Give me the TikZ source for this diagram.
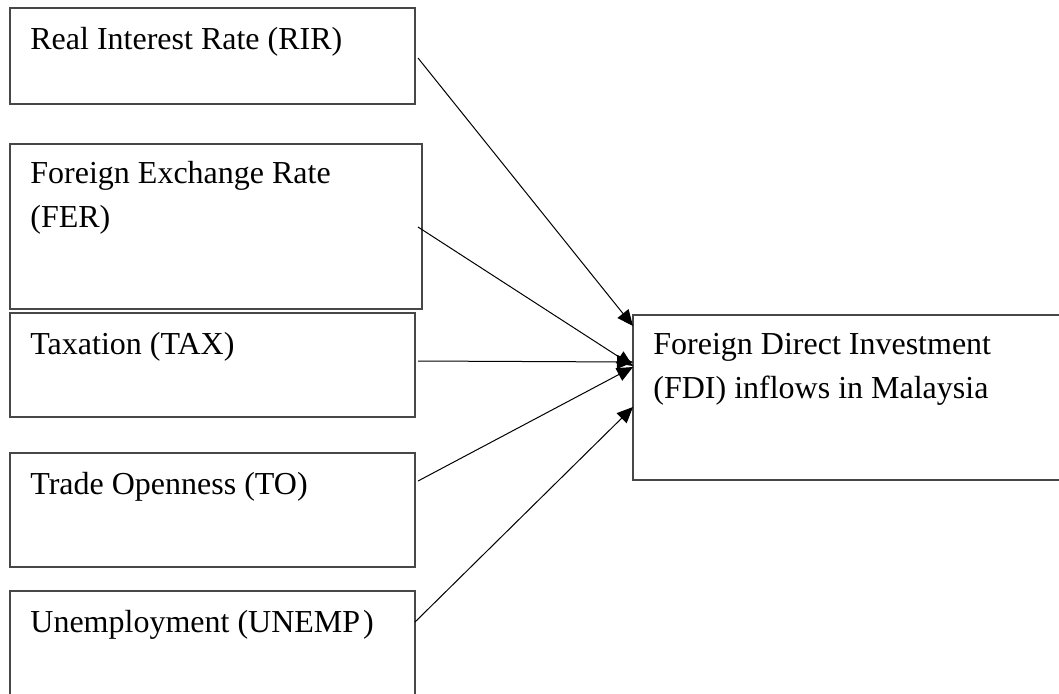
\documentclass[tikz,border=0pt]{standalone}
\usepackage{fontspec}
\setmainfont{Liberation Serif}
\usetikzlibrary{arrows.meta}
\begin{document}
\begin{tikzpicture}[x=0.5pt,y=-0.5pt,
  box/.style={draw=black!72, line width=0.75pt, rectangle, inner sep=0pt, outer sep=0pt, anchor=north west},
  lbl/.style={anchor=base west, inner sep=0pt, font=\fontsize{16}{22}\selectfont},
  lbltwo/.style={lbl, align=left, execute at begin node={\spaceskip=0pt\xspaceskip=0pt}},
  arr/.style={line width=0.5pt, black, -{Triangle[length=8pt,width=7pt]}}]
\useasboundingbox (0,0) rectangle (1059,693);
\clip (0,0) rectangle (1059,693);
% boxes
\node[box, minimum width=202.5pt, minimum height=48pt] (rir) at (10,8) {};
\node[box, minimum width=206pt, minimum height=82.5pt] (fer) at (10,144) {};
\node[box, minimum width=202.5pt, minimum height=52pt] (tax) at (10,313) {};
\node[box, minimum width=202.5pt, minimum height=57pt] (to) at (10,453) {};
\node[box, minimum width=202.5pt, minimum height=70pt] (unemp) at (10,591) {};
\node[box, minimum width=230pt, minimum height=82.5pt] (fdi) at (633,315) {};
% labels (two-line labels are anchored at the baseline of their last line)
\node[lbl] (rirT) at (30,49) {Real Interest Rate (RIR)};
\node[lbltwo] (ferT) at (30,227) {Foreign Exchange Rate\\(FER)};
\node[lbl] (taxT) at (30,354) {Taxation (TAX)};
\node[lbl] (toT) at (30,494) {Trade Openness (TO)};
\node[lbl] (unempT) at (30,632) {Unemployment (UNEMP\kern1.5pt)};
\node[lbltwo] (fdiT) at (653,398) {Foreign Direct Investment\\(FDI) inflows in Malaysia};
% connector ends
\coordinate (s1) at (418,58);
\coordinate (s2) at (418,227);
\coordinate (s3) at (418,361);
\coordinate (s4) at (418,481);
\coordinate (s5) at (415,622);
\coordinate (e1) at (633,326);
\coordinate (e2) at (633,366);
\coordinate (e3) at (633,362);
\coordinate (e4) at (633,367);
\coordinate (e5) at (633,407);
\draw[arr] (s1) -- (e1);
\draw[arr] (s2) -- (e2);
\draw[arr] (s3) -- (e3);
\draw[arr] (s4) -- (e4);
\draw[arr] (s5) -- (e5);
\end{tikzpicture}
\end{document}
